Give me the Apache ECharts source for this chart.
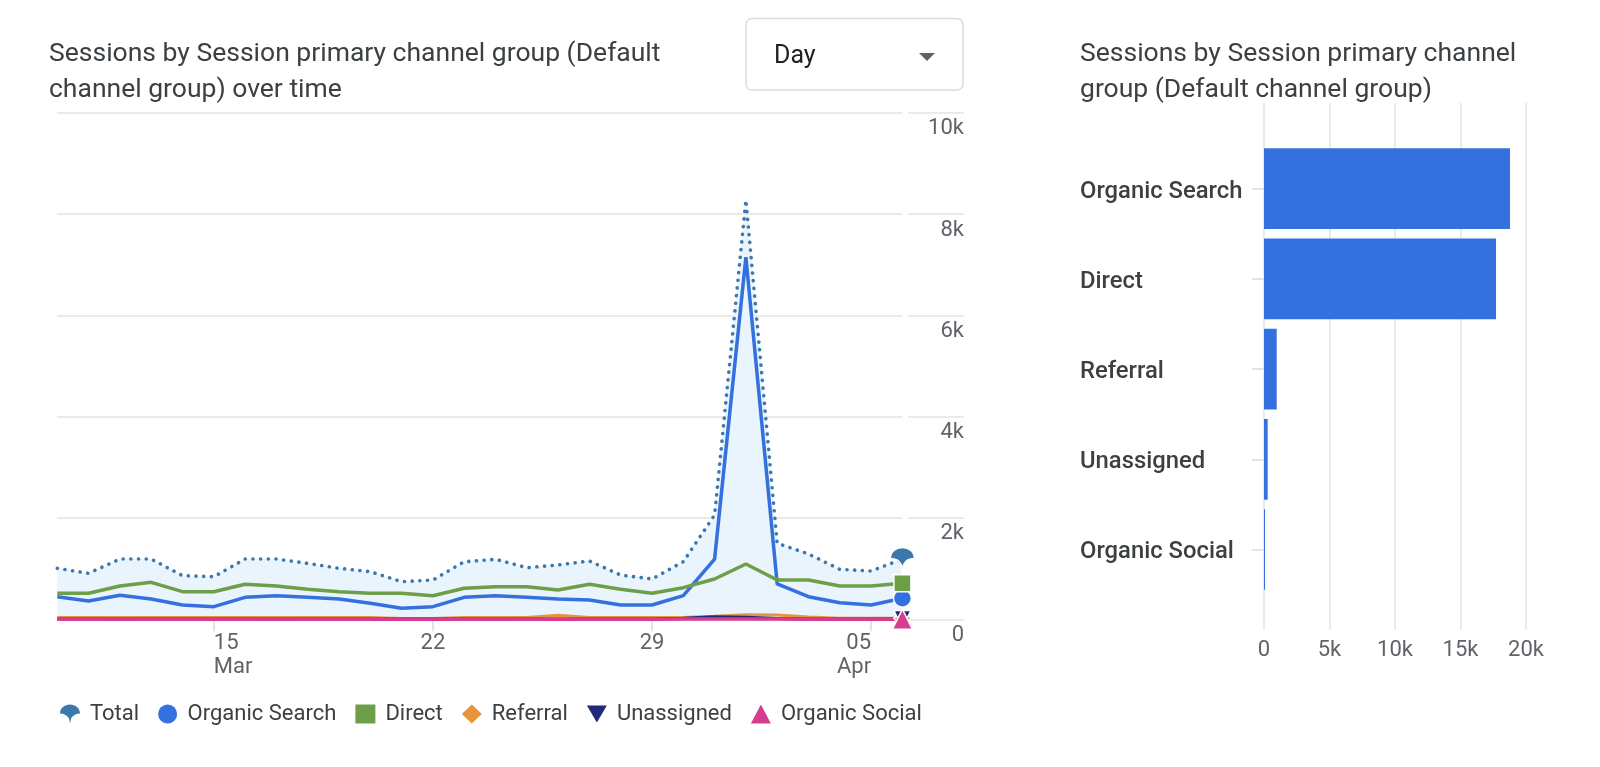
<!DOCTYPE html>
<html><head><meta charset="utf-8">
<script src="https://cdn.jsdelivr.net/npm/echarts@6/dist/echarts.min.js"></script>
<style>html,body{margin:0;padding:0;background:#fff}#c{width:1600px;height:767px}</style>
</head><body><div id="c"></div>
<script>
const days = ['Mar 10','Mar 11','Mar 12','Mar 13','Mar 14','Mar 15','Mar 16','Mar 17','Mar 18','Mar 19','Mar 20','Mar 21','Mar 22','Mar 23','Mar 24','Mar 25','Mar 26','Mar 27','Mar 28','Mar 29','Mar 30','Mar 31','Apr 01','Apr 02','Apr 03','Apr 04','Apr 05','Apr 06'];
const tickLabels = {'Mar 15': '15\nMar', 'Mar 22': '22', 'Mar 29': '29', 'Apr 05': '05\nApr'};
const total         = [1007, 908, 1190, 1190, 861, 841, 1190, 1190, 1105, 1007, 940, 742, 776, 1137, 1184, 1019, 1072, 1151, 874, 796, 1137, 2059, 8277, 1500, 1289, 987, 953, 1190];
const organicSearch = [446, 361, 474, 401, 282, 249, 434, 466, 434, 401, 316, 217, 249, 434, 466, 434, 401, 381, 282, 282, 466, 1190, 7146, 697, 446, 328, 282, 415];
const direct        = [513, 513, 657, 730, 545, 545, 691, 657, 592, 545, 513, 513, 466, 612, 643, 643, 578, 691, 592, 513, 624, 796, 1092, 776, 776, 657, 657, 711];
const referral      = [35, 35, 35, 35, 35, 35, 35, 35, 35, 35, 35, 15, 15, 35, 35, 35, 80, 35, 35, 35, 35, 60, 90, 85, 45, 20, 20, 20];
const unassigned    = [5, 5, 5, 5, 5, 5, 5, 5, 5, 5, 5, 5, 5, 5, 5, 5, 5, 5, 5, 5, 20, 50, 40, 15, 5, 5, 5, 5];
const organicSocial = [3, 2, 4, 3, 3, 2, 3, 4, 3, 2, 3, 3, 2, 3, 4, 3, 3, 2, 3, 3, 4, 5, 6, 4, 3, 2, 3, 3];
const channels = ['Organic Search', 'Direct', 'Referral', 'Unassigned', 'Organic Social'];
const channelSessions = [18780, 17710, 970, 280, 80];

const chart = echarts.init(document.getElementById('c'), null, {renderer: 'canvas'});
const umbrella = 'path://M0,9C0,3.5 4.5,0 10,0C15.5,0 20,3.5 20,9C16,9 12.5,11 11,14L10,19L9,14C7.5,11 4,9 0,9Z';
const downTri = 'path://M0,0L20,0L10,17Z';
const grey = '#5f6368', dark = '#3c4043', gridCol = '#e3e3e3';
const tickKeys = Object.keys(tickLabels);
const firstKey = tickKeys[0], lastKey = tickKeys[tickKeys.length - 1];

function markLast(arr, sym, size) {
  return arr.map((v, i) => i === arr.length - 1 ? {value: v, symbol: sym, symbolSize: size} : v);
}
function dayAxis(test, align) {
  return {
    gridIndex: 0, type: 'category', data: days, boundaryGap: false, position: 'bottom',
    axisLine: {show: false},
    axisTick: {show: true, length: 12, interval: (i, v) => test(v), lineStyle: {color: '#dadce0', width: 1.5}},
    axisLabel: {interval: (i, v) => test(v), formatter: v => tickLabels[v] || '', align: align,
      fontSize: 22, lineHeight: 24, color: grey, margin: 12},
    splitLine: {show: false}
  };
}
function lineSeries(name, arr, color, width, sym, size, extra) {
  return Object.assign({
    name: name, type: 'line', xAxisIndex: 0, yAxisIndex: 0,
    data: markLast(arr, sym, size), symbol: 'none', showSymbol: true, showAllSymbol: true,
    color: color,
    lineStyle: {color: color, width: width},
    itemStyle: {color: color, borderColor: '#fff', borderWidth: 1.5},
    emphasis: {disabled: true}, silent: true
  }, extra || {});
}
const kfmt = v => v === 0 ? '0' : (v / 1000) + 'k';
const titleStyle = {fontSize: 26.5, fontWeight: 400, color: dark, lineHeight: 36, fontFamily: 'Roboto'};

const option = {
  animation: false,
  textStyle: {fontFamily: 'Roboto'},
  title: [
    {text: 'Sessions by Session primary channel group (Default\nchannel group) over time', left: 49, top: 36, padding: 0,
     textStyle: titleStyle},
    {text: 'Sessions by Session primary channel\ngroup (Default channel group)', left: 1080, top: 36, padding: 0,
     textStyle: titleStyle}
  ],
  graphic: [
    {type: 'rect', shape: {x: 746, y: 18.5, width: 217, height: 71.5, r: 6}, style: {fill: '#fff', stroke: '#dadce0', lineWidth: 1.5}},
    {type: 'text', x: 774, y: 57, style: {text: 'Day', font: '400 25px Roboto', fill: '#202124', verticalAlign: 'middle'}},
    {type: 'polygon', shape: {points: [[919, 53], [935, 53], [927, 61]]}, style: {fill: grey}}
  ],
  legend: {
    left: 55, top: 698, itemWidth: 20, itemHeight: 19, itemGap: 19, selectedMode: false,
    textStyle: {fontSize: 22, color: dark, padding: [0, 0, 0, 5], fontFamily: 'Roboto'},
    itemStyle: {borderWidth: 0},
    data: [
      {name: 'Total', icon: umbrella},
      {name: 'Organic Search', icon: 'circle'},
      {name: 'Direct', icon: 'rect'},
      {name: 'Referral', icon: 'diamond'},
      {name: 'Unassigned', icon: downTri},
      {name: 'Organic Social', icon: 'triangle'}
    ]
  },
  grid: [
    {left: 57.3, right: 697.6, top: 112.7, bottom: 147.7, outerBoundsMode: 'none'},
    {left: 908, right: 636, top: 112.7, bottom: 147.7, outerBoundsMode: 'none'},
    {left: 1264, right: 74, top: 103, bottom: 137, outerBoundsMode: 'none'},
    {left: 1264, right: 74, top: 143.6, bottom: 172.4, outerBoundsMode: 'none'}
  ],
  xAxis: [
    dayAxis(v => v in tickLabels && v !== firstKey && v !== lastKey, 'center'),
    dayAxis(v => v === firstKey, 'left'),
    dayAxis(v => v === lastKey, 'right'),
    {gridIndex: 1, type: 'value', show: false, min: 0, max: 1},
    {gridIndex: 2, type: 'value', min: 0, max: 20000, interval: 5000,
     axisLine: {show: false}, axisTick: {show: false},
     axisLabel: {formatter: kfmt, fontSize: 22, color: grey, margin: 9},
     splitLine: {lineStyle: {color: gridCol, width: 1.5}}},
    {gridIndex: 3, type: 'value', show: false, min: 0, max: 20000}
  ],
  yAxis: [
    {gridIndex: 0, type: 'value', min: 0, max: 10000, interval: 2000,
     axisLine: {show: false}, axisTick: {show: false}, axisLabel: {show: false},
     splitLine: {lineStyle: {color: gridCol, width: 1.5}}},
    {gridIndex: 1, type: 'value', position: 'right', min: 0, max: 10000, interval: 2000,
     axisLine: {show: false}, axisTick: {show: false},
     axisLabel: {inside: true, margin: 0, align: 'right', verticalAlign: 'top', padding: [5, 0, 0, 0], lineHeight: 22,
                 fontSize: 22, color: grey, formatter: kfmt},
     splitLine: {lineStyle: {color: gridCol, width: 1.5}}},
    {gridIndex: 2, type: 'value', show: false},
    {gridIndex: 3, type: 'category', data: channels, inverse: true,
     axisLine: {show: false},
     axisTick: {show: true, alignWithLabel: true, length: 12, lineStyle: {color: '#dadce0', width: 1.5}},
     axisLabel: {margin: 184, align: 'left', verticalAlign: 'top', lineHeight: 6, fontSize: 23.8, fontWeight: 500, color: dark}}
  ],
  series: [
    lineSeries('Total', total, '#3b78ad', 3.5, umbrella, [24, 23], {
      lineStyle: {color: '#3b78ad', width: 3.6, type: [0.1, 7.6], cap: 'round'},
      areaStyle: {color: '#e9f4fc', opacity: 1}
    }),
    lineSeries('Organic Search', organicSearch, '#3571de', 3.5, 'circle', 18),
    lineSeries('Direct', direct, '#6d9e48', 3.5, 'rect', 17),
    lineSeries('Referral', referral, '#e8953a', 3, 'diamond', 17),
    lineSeries('Unassigned', unassigned, '#1f2a7d', 3, downTri, 17),
    lineSeries('Organic Social', organicSocial, '#d63c91', 3.5, 'triangle', 20),
    {type: 'bar', xAxisIndex: 5, yAxisIndex: 3, data: channelSessions, barCategoryGap: '10.5%',
     itemStyle: {color: '#3571de'}, silent: true}
  ]
};
chart.setOption(option);
</script>
</body></html>
